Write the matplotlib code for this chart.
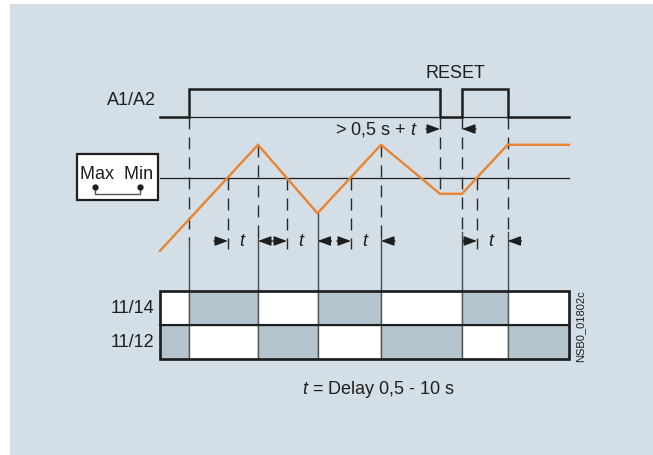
import matplotlib
matplotlib.use('Agg')
import matplotlib.pyplot as plt
from matplotlib.patches import Rectangle

plt.rcParams['font.family'] = ['Liberation Sans', 'DejaVu Sans']
plt.rcParams['mathtext.fontset'] = 'custom'
plt.rcParams['mathtext.rm'] = 'Liberation Sans'
plt.rcParams['mathtext.it'] = 'Liberation Sans:italic'

# ---------------- data (diagram time units) ----------------
T_START, T_END = 160, 569
supply_t = [160, 189, 440, 462, 507.5, 569]          # A1/A2 transitions
supply_on = [0, 1, 0, 1, 0, 0]
sensor_t = [160, 258, 317.5, 381, 440, 462, 507.5, 569]
sensor_level = [-72.5, 33.5, -35, 33.5, -15.5, -15.5, 33.5, 33.5]  # relative to threshold
threshold_cross_t = [228, 287, 351, 477]
relay_t = [160, 189, 258, 317.5, 381, 462, 507.5, 569]
relay_1114 = [0, 1, 0, 1, 0, 1, 0]
relay_1112 = [1, 0, 1, 0, 1, 0, 1]
delay_intervals = [(228, 258), (287, 317.5), (351, 381), (477, 507.5)]
reset_gap = (440, 462)
row_labels = ['11/14', '11/12']

# ---------------- layout ----------------
W, H = 653, 456
Y_SUP_LOW, Y_SUP_HIGH = 118, 90
Y_THR = 179.3
Y_ARROW = 242
BOX_TOP, BOX_MID, BOX_BOT = 292, 326, 360
BG = '#d3dee6'
GREY = '#b4c5cf'
ORANGE = '#e9842f'
DARK = '#1e1e1e'
FS = 13

fig = plt.figure(figsize=(W / 100, H / 100), dpi=100, facecolor='white')
ax = fig.add_axes([0, 0, 1, 1])
ax.set_xlim(0, W)
ax.set_ylim(H, 0)
ax.axis('off')
ax.add_patch(Rectangle((10, 5), W - 10, H - 5, facecolor=BG, edgecolor='none', zorder=0))

def sensor_y(lv):
    return Y_THR - lv

# ----- A1/A2 supply -----
ax.plot([T_START, T_END], [Y_SUP_LOW, Y_SUP_LOW], color=DARK, lw=0.9, zorder=3)
sup_y = [Y_SUP_HIGH if s else Y_SUP_LOW for s in supply_on]
ax.step(supply_t, sup_y, where='post', color=DARK, lw=1.8, zorder=4, solid_joinstyle='miter')
ax.text(156, 101, 'A1/A2', ha='right', va='center', fontsize=FS, color=DARK)
ax.text(455, 73, 'RESET', ha='center', va='center', fontsize=FS, color=DARK)

# ----- threshold & Max/Min box -----
ax.plot([T_START, T_END], [Y_THR, Y_THR], color=DARK, lw=0.9, zorder=3)
ax.add_patch(Rectangle((76.5, 155), 81.5, 46, facecolor='white', edgecolor=DARK, lw=1.6, zorder=3))
ax.text(117, 174.5, 'Max  Min', ha='center', va='center', fontsize=FS, color=DARK, zorder=4)
ax.plot([95, 95, 140, 140], [188, 194.5, 194.5, 188], color='#555555', lw=1.0, zorder=4)
ax.plot([95, 140], [188, 188], 'o', color=DARK, ms=3.5, zorder=5)

# ----- sensor signal -----
ax.plot(sensor_t, [sensor_y(v) for v in sensor_level], color=ORANGE, lw=1.7, zorder=5,
        solid_joinstyle='miter')

# ----- guide lines -----
DASH = (0, (8.6, 5.8))
def interp_sensor(x):
    for i in range(len(sensor_t) - 1):
        if sensor_t[i] <= x <= sensor_t[i + 1]:
            f = (x - sensor_t[i]) / (sensor_t[i + 1] - sensor_t[i])
            return sensor_y(sensor_level[i] + f * (sensor_level[i + 1] - sensor_level[i]))
    return Y_THR

solid_from = {189: 241, 258: 238, 317.5: None, 381: 238, 462: 233, 507.5: 233}
for x in relay_t[1:-1]:
    top = Y_SUP_LOW if x in supply_t else interp_sensor(x)
    sf = solid_from[x]
    if sf is None:
        ax.plot([x, x], [top, BOX_TOP], color='#4a4a4a', lw=1.0, zorder=2)
    else:
        ax.plot([x, x], [top, sf], color='#2a2a2a', lw=1.0, ls=DASH, zorder=2)
        ax.plot([x, x], [sf, BOX_TOP], color='#4a4a4a', lw=1.0, zorder=2)
# supply fall at reset start
ax.plot([reset_gap[0]] * 2, [Y_SUP_LOW, interp_sensor(reset_gap[0])], color='#2a2a2a', lw=1.0,
        ls=DASH, zorder=2)
for x in threshold_cross_t:
    ax.plot([x, x], [Y_THR, 250], color='#2a2a2a', lw=1.0, ls=DASH, zorder=2)

# ----- arrows & t labels -----
AST = '-|>,head_length=0.6,head_width=0.22'
def arrow(tip, tail, y):
    ax.annotate('', xy=(tip, y), xytext=(tail, y),
                arrowprops=dict(arrowstyle=AST, color=DARK, lw=1.0, mutation_scale=13,
                                shrinkA=0, shrinkB=0), zorder=6)

for a, b in delay_intervals:
    arrow(a, a - 14, Y_ARROW)
    arrow(b, b + 14, Y_ARROW)
    ax.text((a + b) / 2, Y_ARROW, '$t$', ha='center', va='center', fontsize=FS, color=DARK)

arrow(reset_gap[0], reset_gap[0] - 14, 130)
arrow(reset_gap[1], reset_gap[1] + 14, 130)
ax.text(418, 130, '> 0,5 s + $t$', ha='right', va='center', fontsize=FS, color=DARK)

# ----- relay contact rows -----
for row_i, states in enumerate([relay_1114, relay_1112]):
    y0 = BOX_TOP if row_i == 0 else BOX_MID
    h = BOX_MID - BOX_TOP if row_i == 0 else BOX_BOT - BOX_MID
    segs = [(relay_t[i], relay_t[i + 1] - relay_t[i]) for i in range(len(states))]
    cols = [GREY if s else 'white' for s in states]
    ax.broken_barh(segs, (y0, h), facecolors=cols, edgecolors='#555555', linewidth=1.0, zorder=3)
    ax.text(154, y0 + h / 2, row_labels[row_i], ha='right', va='center', fontsize=FS, color=DARK)
ax.plot([T_START, T_END], [BOX_MID, BOX_MID], color=DARK, lw=1.5, zorder=4)
ax.add_patch(Rectangle((T_START, BOX_TOP), T_END - T_START, BOX_BOT - BOX_TOP,
                       facecolor='none', edgecolor=DARK, lw=1.9, zorder=5))

ax.text(580, 326, 'NSB0_01802c', rotation=90, ha='center', va='center', fontsize=8, color=DARK)
ax.text(378, 390, '$t$ = Delay 0,5 - 10 s', ha='center', va='center', fontsize=FS, color=DARK)

fig.savefig('out.png', dpi=100, facecolor='white')
